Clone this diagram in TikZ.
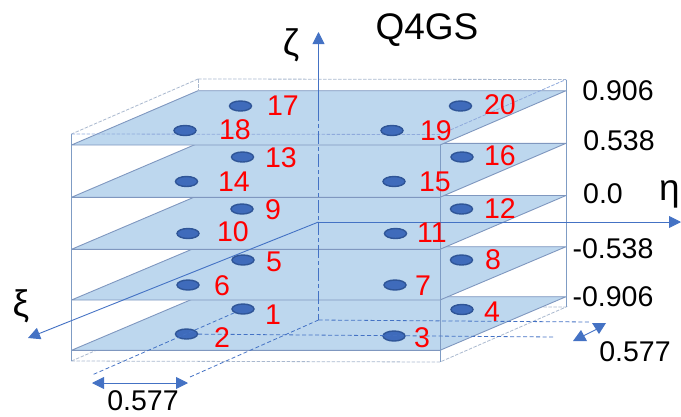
\documentclass[tikz,border=0pt]{standalone}
\usepackage{fontspec}
\setmainfont{Liberation Sans}
\usetikzlibrary{arrows.meta,shapes.geometric}
\definecolor{planefill}{HTML}{BDD7EE}
\definecolor{planeedge}{HTML}{7F97BF}
\definecolor{axisblue}{HTML}{4472C4}
\definecolor{ptfill}{HTML}{3F6BBB}
\definecolor{ptedge}{HTML}{2F5597}
\definecolor{boxdash}{HTML}{A9B8CE}
\definecolor{boxline}{HTML}{7F9CC4}
\tikzset{
  plane/.style={fill=planefill,draw=planeedge,line width=0.9pt,line join=round},
  axisline/.style={draw=axisblue,line width=0.9pt},
  axisarrow/.style={axisline,-{Triangle[length=12pt,width=12pt,fill=axisblue]}},
  dimarrow/.style={axisline,{Triangle[length=12pt,width=12pt,fill=axisblue]}-{Triangle[length=12pt,width=12pt,fill=axisblue]}},
  dimhead/.style={fill=axisblue},
  guide/.style={draw=axisblue,line width=0.8pt,dash pattern=on 4pt off 2.5pt},
  boxdashed/.style={draw=boxdash,line width=0.8pt,dash pattern=on 3.5pt off 1.5pt},
  boxedge/.style={draw=boxline,line width=1pt},
  pt/.style={ellipse,fill=ptfill,draw=ptedge,line width=1.4pt,minimum width=22pt,minimum height=10pt,inner sep=0pt},
  redlab/.style={text=red,font=\fontsize{28.5}{28.5}\selectfont,inner sep=0pt},
  blacklab/.style={text=black,font=\fontsize{28.5}{28.5}\selectfont,inner sep=0pt},
  titlelab/.style={text=black,font=\fontsize{37}{37}\selectfont,inner sep=0pt},
  greeklab/.style={text=black,font=\fontsize{37}{37}\selectfont,inner sep=0pt},
}
\begin{document}
\begin{tikzpicture}[x=1pt,y=-1pt]
\useasboundingbox (0,0) rectangle (681,416);
% box corners
\coordinate (tfl) at (71.5,134);
\coordinate (tfr) at (440,134.5);
\coordinate (tbl) at (198,79);
\coordinate (tbr) at (566,79.5);
\coordinate (bfl) at (71.5,361);
\coordinate (bfr) at (440,362);
\coordinate (bbr) at (566,307);
\coordinate (bbs) at (543,307);
% bottom dashed box edges
\draw[boxdashed] (bfl) -- (bfr) -- (bbr) -- (bbs);
\draw[boxdashed] (bfl) -- (97,350);
\draw[boxdashed] (tbl) -- (tfl);
\draw[boxdashed] (tbl) -- (tbr);
% planes, bottom to top
\foreach \fy/\by in {350.3/296.7,300/246.7,249.3/195.5,197.3/143.3,145/90.7}{
  \draw[plane] (71.5,\fy) -- (440,\fy) -- (566,\by) -- (198,\by) -- cycle;
}
% box verticals
\draw[boxedge] (tfl) -- (bfl);
\draw[boxedge] (tbr) -- (bbr);
\draw[boxedge] (440,145) -- (bfr);
\draw[boxdashed,line width=1pt] (tbl) -- (198,90.7);
% top dashed over planes
\draw[boxdashed,draw=axisblue!60] (tfl) -- (tfr) -- (tbr);
% axes
\coordinate (orig) at (318.5,222);
\coordinate (zbase) at (318.5,320);
\coordinate (ztip) at (318.5,32);
\coordinate (ztop) at (318.5,108);
\coordinate (etip) at (681,222);
\coordinate (xtip) at (28,338);
\draw[axisarrow] (ztop) -- (ztip);
\draw[axisline,dash pattern=on 13pt off 3pt on 4pt off 3pt] (ztop) -- (orig);
\draw[axisline,dash pattern=on 13pt off 3pt on 4pt off 3pt] (orig) -- (zbase);
\draw[axisarrow] (orig) -- (etip);
\draw[axisarrow] (orig) -- (xtip);
% points
\foreach \n/\x/\y in {17/240.5/106,18/185/130.5,13/242.5/157,14/186.5/181.5,9/242/209,10/188/233.5,5/243/260,6/188/285,1/243/309,2/186.5/334,20/460.5/106,19/392/130.5,16/462/157,15/394/181.5,12/461.5/209,11/395.5/233.5,8/461.5/260,7/395/285,4/462/309.5,3/394/336}{
  \node[pt] (p\n) at (\x,\y) {};
}
% guides
\coordinate (g1) at (92,375);
\coordinate (g2) at (190,377);
\coordinate (g3) at (590,322);
\coordinate (g4) at (553,337);
\draw[guide] (p1) -- (g1);
\draw[guide] (zbase) -- (g2);
\draw[guide] (zbase) -- (g3);
\draw[guide] (p2) -- (g4);
% dimension arrows
\coordinate (d1) at (92,383);
\coordinate (d2) at (188,383);
\coordinate (d3) at (581,337);
\coordinate (d4) at (599,328);
\draw[dimarrow] (d1) -- (d2);
\draw[axisline] (d3) -- (d4);
\fill[dimhead] (573,341) -- (587,341) -- (581,330) -- cycle;
\fill[dimhead] (606,323) -- (592,323) -- (599,334) -- cycle;
% point labels
\foreach \n/\x/\y in {17/283/106,18/235/130,13/281/158,14/234/182,9/273/210,10/233/232,5/274/262,6/222/286,1/273/315,2/222/338,20/500/105,19/436/131,16/500/156,15/435/182,12/500/209,11/432/233,8/493/260,7/423/286,4/492/312,3/422/338}{
  \node[redlab] (l\n) at (\x,\y) {\n};
}
% value labels
\node[blacklab] (v1) at (618,91) {0.906};
\node[blacklab] (v2) at (619,141) {0.538};
\node[blacklab] (v3) at (603,194) {0.0};
\node[blacklab] (v4) at (613,249) {-0.538};
\node[blacklab] (v5) at (613,297) {-0.906};
\node[blacklab] (w1) at (635,352) {0.577};
\node[blacklab] (w2) at (143,401) {0.577};
\node[titlelab] (title) at (427,30) {Q4GS};
\node[greeklab] (az) at (291,45.5) {ζ};
\node[greeklab] (ae) at (669.5,194) {η};
\node[greeklab] (ax) at (21,306.5) {ξ};
\end{tikzpicture}
\end{document}
